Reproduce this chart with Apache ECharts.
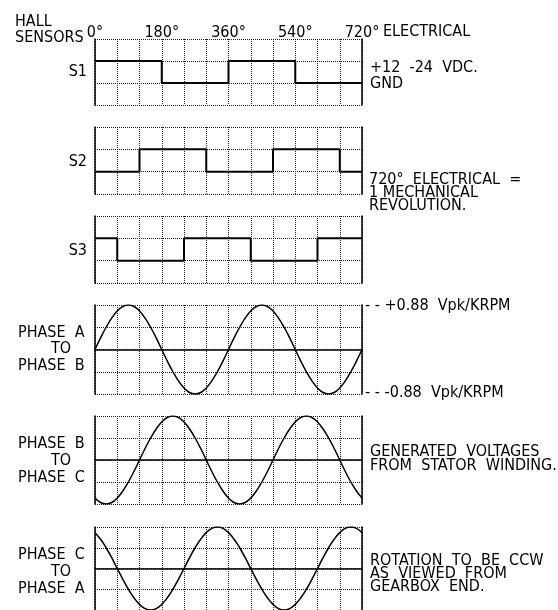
<!DOCTYPE html>
<html><head><meta charset="utf-8">
<script src="https://cdn.jsdelivr.net/npm/echarts@6/dist/echarts.min.js"></script>
<style>html,body{margin:0;padding:0;background:#fff}#c{width:558px;height:610px}</style>
</head><body><div id="c"></div>
<script>
const FONT_FAMILY = "'Liberation Sans Narrow','DejaVu Sans Condensed','Roboto Condensed',sans-serif";
// tick labels on the top axis
const degreeTicks = [0, 180, 360, 540, 720];
const degreeLabels = ['0°', '180°', '360°', '540°', '720°'];
// hall sensor states at each 60° segment start (2 = high, 1 = low)
const sensorAngles = [0, 60, 120, 180, 240, 300, 360, 420, 480, 540, 600, 660, 720];
const s1 = [2, 2, 2, 1, 1, 1, 2, 2, 2, 1, 1, 1, 1];
const s2 = [1, 1, 2, 2, 2, 1, 1, 1, 2, 2, 2, 1, 1];
const s3 = [2, 1, 1, 1, 2, 2, 2, 1, 1, 1, 2, 2, 2];
// generated voltages (Vpk/KRPM) read every 15°
const phaseAngles = [0,15,30,45,60,75,90,105,120,135,150,165,180,195,210,225,240,255,270,285,300,315,330,345,360,
  375,390,405,420,435,450,465,480,495,510,525,540,555,570,585,600,615,630,645,660,675,690,705,720];
const phaseAB = [0,0.23,0.44,0.62,0.76,0.85,0.88,0.85,0.76,0.62,0.44,0.23,0,-0.23,-0.44,-0.62,-0.76,-0.85,-0.88,-0.85,-0.76,-0.62,-0.44,-0.23,
  0,0.23,0.44,0.62,0.76,0.85,0.88,0.85,0.76,0.62,0.44,0.23,0,-0.23,-0.44,-0.62,-0.76,-0.85,-0.88,-0.85,-0.76,-0.62,-0.44,-0.23,0];
const phaseBC = [-0.76,-0.85,-0.88,-0.85,-0.76,-0.62,-0.44,-0.23,0,0.23,0.44,0.62,0.76,0.85,0.88,0.85,0.76,0.62,0.44,0.23,0,-0.23,-0.44,-0.62,
  -0.76,-0.85,-0.88,-0.85,-0.76,-0.62,-0.44,-0.23,0,0.23,0.44,0.62,0.76,0.85,0.88,0.85,0.76,0.62,0.44,0.23,0,-0.23,-0.44,-0.62,-0.76];
const phaseCA = [0.76,0.62,0.44,0.23,0,-0.23,-0.44,-0.62,-0.76,-0.85,-0.88,-0.85,-0.76,-0.62,-0.44,-0.23,0,0.23,0.44,0.62,0.76,0.85,0.88,0.85,
  0.76,0.62,0.44,0.23,0,-0.23,-0.44,-0.62,-0.76,-0.85,-0.88,-0.85,-0.76,-0.62,-0.44,-0.23,0,0.23,0.44,0.62,0.76,0.85,0.88,0.85,0.76];
const vpk = 0.88;

const panels = [
  {top: 39, height: 66, kind: 'sensor', x: sensorAngles, y: s1},
  {top: 127, height: 67, kind: 'sensor', x: sensorAngles, y: s2},
  {top: 216, height: 67, kind: 'sensor', x: sensorAngles, y: s3},
  {top: 305, height: 89, kind: 'phase', x: phaseAngles, y: phaseAB},
  {top: 416, height: 88, kind: 'phase', x: phaseAngles, y: phaseBC},
  {top: 527, height: 88, kind: 'phase', x: phaseAngles, y: phaseCA}
];

const dotted = {color: '#222', width: 1, type: [1, 1]};
const grid = [], xAxis = [], yAxis = [], series = [];
panels.forEach((p, i) => {
  grid.push({left: 95, width: 267, top: p.top, height: p.height});
  xAxis.push({
    type: 'value', gridIndex: i, min: 0, max: 720, interval: 60,
    position: i === 0 ? 'top' : 'bottom',
    axisLine: {show: p.kind === 'phase', onZero: true, lineStyle: {color: '#000', width: 1.5}},
    axisTick: {show: false},
    axisLabel: i === 0 ? {
      show: true, margin: -2, color: '#000', fontFamily: FONT_FAMILY, fontSize: 16,
      showMinLabel: true, showMaxLabel: true,
      formatter: v => { const k = degreeTicks.indexOf(v); return k >= 0 ? degreeLabels[k] : ''; }
    } : {show: false},
    splitLine: {show: true, lineStyle: dotted}
  });
  const yr = p.kind === 'sensor' ? {min: 0, max: 3, interval: 1} : {min: -vpk, max: vpk, interval: vpk / 2};
  yAxis.push(Object.assign({
    type: 'value', gridIndex: i, position: 'left',
    axisLine: {show: true, onZero: false, lineStyle: {color: '#000', width: 1.5}},
    axisTick: {show: false}, axisLabel: {show: false},
    splitLine: {show: true, lineStyle: dotted}
  }, yr));
  yAxis.push(Object.assign({
    type: 'value', gridIndex: i, position: 'right',
    axisLine: {show: true, onZero: false, lineStyle: {color: '#000', width: 1.5}},
    axisTick: {show: false}, axisLabel: {show: false}, splitLine: {show: false}
  }, yr));
  series.push({
    type: 'line', xAxisIndex: i, yAxisIndex: i * 2,
    data: p.x.map((a, k) => [a, p.y[k]]),
    step: p.kind === 'sensor' ? 'end' : false,
    smooth: p.kind === 'phase',
    symbol: 'none', silent: true,
    lineStyle: {color: '#000', width: p.kind === 'sensor' ? 2 : 1.5},
    z: 5
  });
});

const FONT = '16px ' + FONT_FAMILY;
function t(text, x, y, align) {
  return {type: 'text', x: x, y: y, style: {text: text, font: FONT, fill: '#000', align: align || 'left', verticalAlign: 'middle'}};
}
const texts = [
  t('HALL', 15, 22), t('SENSORS', 15, 38),
  t('ELECTRICAL', 383, 32),
  t('S1', 87, 72, 'right'), t('S2', 87, 162, 'right'), t('S3', 87, 251, 'right'),
  t('+12  -24  VDC.', 370, 68), t('GND', 370, 84),
  t('720°  ELECTRICAL  =', 369, 180), t('1 MECHANICAL', 369, 193), t('REVOLUTION.', 369, 206),
  t('- - +0.88  Vpk/KRPM', 365, 306), t('- - -0.88  Vpk/KRPM', 365, 393),
  t('PHASE  A', 18, 333), t('TO', 61, 349, 'center'), t('PHASE  B', 18, 366),
  t('PHASE  B', 18, 444), t('TO', 61, 461, 'center'), t('PHASE  C', 18, 478),
  t('PHASE  C', 18, 555), t('TO', 61, 572, 'center'), t('PHASE  A', 18, 589),
  t('GENERATED  VOLTAGES', 370, 452), t('FROM  STATOR  WINDING.', 370, 466),
  t('ROTATION  TO  BE  CCW', 370, 561), t('AS  VIEWED  FROM', 370, 574), t('GEARBOX  END.', 370, 587)
];

const chart = echarts.init(document.getElementById('c'), null, {renderer: 'canvas'});
chart.setOption({
  backgroundColor: '#fff', animation: false,
  grid: grid, xAxis: xAxis, yAxis: yAxis, series: series,
  graphic: {elements: texts}
});
</script></body></html>
